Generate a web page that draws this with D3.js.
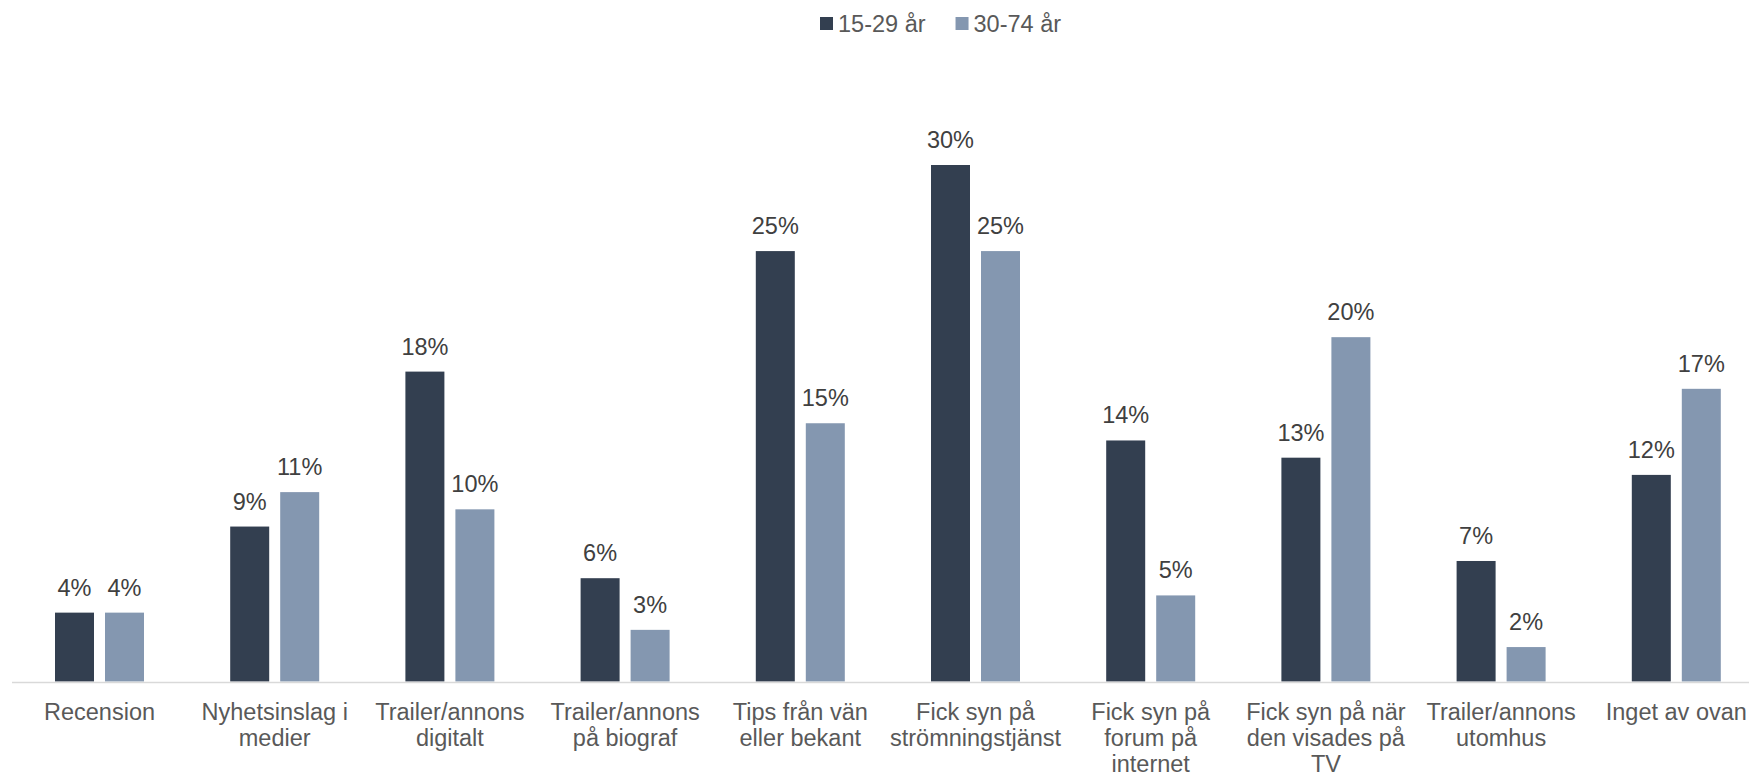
<!DOCTYPE html>
<html>
<head>
<meta charset="utf-8">
<script src="https://cdn.jsdelivr.net/npm/d3@7"></script>
<style>
  html, body { margin: 0; padding: 0; background: #ffffff; }
  svg { display: block; font-family: "Liberation Sans", Arial, sans-serif; }
</style>
</head>
<body>
<svg id="chart" width="1749" height="776"></svg>
<script>
const categories = [
  "Recension",
  "Nyhetsinslag i\nmedier",
  "Trailer/annons\ndigitalt",
  "Trailer/annons\npå biograf",
  "Tips från vän\neller bekant",
  "Fick syn på\nströmningstjänst",
  "Fick syn på\nforum på\ninternet",
  "Fick syn på när\nden visades på\nTV",
  "Trailer/annons\nutomhus",
  "Inget av ovan"
];
const seriesNames = ["15-29 år", "30-74 år"];
const values1529 = [4, 9, 18, 6, 25, 30, 14, 13, 7, 12];
const values3074 = [4, 11, 10, 3, 15, 25, 5, 20, 2, 17];
const seriesColors = ["#333F50", "#8497B0"];

const svg = d3.select("#chart");
const baseY = 681.5;

const x0 = d3.scaleBand().domain(categories).range([11.9, 11.9 + 175.2 * categories.length]).paddingInner(0).paddingOuter(0);
const x1 = d3.scaleBand().domain(seriesNames).range([-44.5, 44.5]).paddingInner(0.22).paddingOuter(0);
const y = d3.scaleLinear().domain([0, 30]).range([baseY, 165]);

const data = categories.map((c, i) => ({
  cat: c,
  vals: [
    { s: seriesNames[0], v: values1529[i], color: seriesColors[0] },
    { s: seriesNames[1], v: values3074[i], color: seriesColors[1] }
  ]
}));

const groups = svg.append("g").selectAll("g.grp")
  .data(data).join("g")
  .attr("class", "grp")
  .attr("transform", d => `translate(${x0(d.cat) + x0.bandwidth() / 2},0)`);

groups.selectAll("rect")
  .data(d => d.vals).join("rect")
  .attr("x", d => x1(d.s))
  .attr("width", x1.bandwidth())
  .attr("y", d => y(d.v))
  .attr("height", d => baseY - y(d.v))
  .attr("fill", d => d.color);

groups.selectAll("text.val")
  .data(d => d.vals).join("text")
  .attr("class", "val")
  .attr("x", d => x1(d.s) + x1.bandwidth() / 2)
  .attr("y", d => y(d.v) - 17)
  .attr("text-anchor", "middle")
  .attr("font-size", "23.5px")
  .attr("fill", "#404040")
  .text(d => d.v + "%");

// x axis line
svg.append("line")
  .attr("x1", 12).attr("x2", 1749)
  .attr("y1", baseY + 1).attr("y2", baseY + 1)
  .attr("stroke", "#d9d9d9").attr("stroke-width", 1.6);

// category labels
const xAxis = d3.axisBottom(x0).tickSize(0).tickFormat("");
const axisG = svg.append("g").attr("transform", `translate(0,${baseY})`).call(xAxis);
axisG.select(".domain").remove();
axisG.selectAll(".tick").each(function(d) {
  const t = d3.select(this).append("text")
    .attr("text-anchor", "middle")
    .attr("font-size", "23.5px")
    .attr("fill", "#595959")
    .attr("y", 38);
  d.split("\n").forEach((line, i) => {
    t.append("tspan").attr("x", 0).attr("dy", i === 0 ? 0 : 26.3).text(line);
  });
});

// legend
const legend = svg.append("g");
let lx = 820;
seriesNames.forEach((name, i) => {
  legend.append("rect")
    .attr("x", lx).attr("y", 17).attr("width", 13).attr("height", 13)
    .attr("fill", seriesColors[i]);
  const t = legend.append("text")
    .attr("x", lx + 18).attr("y", 31.5)
    .attr("font-size", "23.5px")
    .attr("fill", "#595959")
    .text(name);
  lx = lx + 18 + t.node().getComputedTextLength() + 30;
});
</script>
</body>
</html>
